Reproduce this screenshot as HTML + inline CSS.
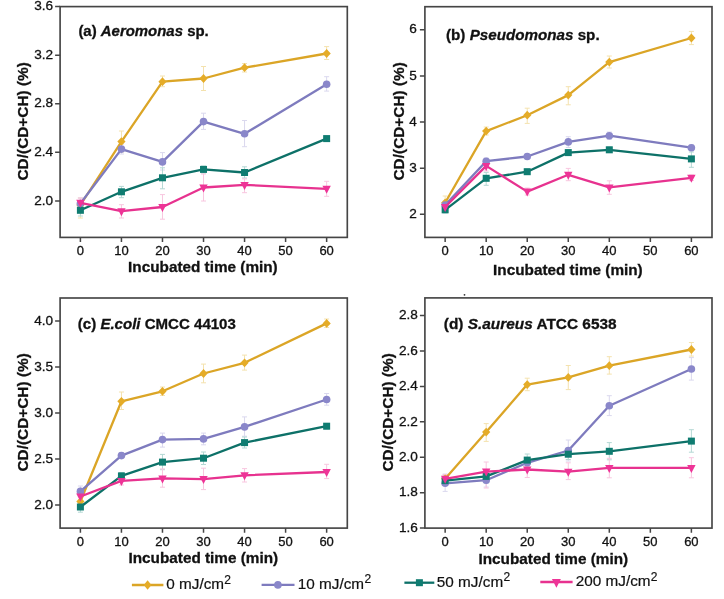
<!DOCTYPE html>
<html><head><meta charset="utf-8"><style>html,body{margin:0;padding:0;background:#fff;}body{width:724px;height:599px;overflow:hidden;}svg{display:block;}</style></head>
<body>
<svg width="724" height="599" viewBox="0 0 724 599" font-family='"Liberation Sans", Arial, Helvetica, sans-serif'>
<rect width="724" height="599" fill="#fff"/>
<path d="M80.40 198.00V218.00M77.90 198.00H82.90M77.90 218.00H82.90" stroke="#F4E2AE" stroke-width="1" fill="none"/>
<path d="M121.44 131.00V152.00M118.94 131.00H123.94M118.94 152.00H123.94" stroke="#F4E2AE" stroke-width="1" fill="none"/>
<path d="M162.48 76.00V86.70M159.98 76.00H164.98M159.98 86.70H164.98" stroke="#F4E2AE" stroke-width="1" fill="none"/>
<path d="M203.52 66.50V90.50M201.02 66.50H206.02M201.02 90.50H206.02" stroke="#F4E2AE" stroke-width="1" fill="none"/>
<path d="M244.56 63.50V72.00M242.06 63.50H247.06M242.06 72.00H247.06" stroke="#F4E2AE" stroke-width="1" fill="none"/>
<path d="M326.64 46.60V59.50M324.14 46.60H329.14M324.14 59.50H329.14" stroke="#F4E2AE" stroke-width="1" fill="none"/>
<path d="M80.40 198.00V209.00M77.90 198.00H82.90M77.90 209.00H82.90" stroke="#DAD8EE" stroke-width="1" fill="none"/>
<path d="M121.44 144.00V154.00M118.94 144.00H123.94M118.94 154.00H123.94" stroke="#DAD8EE" stroke-width="1" fill="none"/>
<path d="M162.48 152.60V170.00M159.98 152.60H164.98M159.98 170.00H164.98" stroke="#DAD8EE" stroke-width="1" fill="none"/>
<path d="M203.52 113.20V129.40M201.02 113.20H206.02M201.02 129.40H206.02" stroke="#DAD8EE" stroke-width="1" fill="none"/>
<path d="M244.56 120.50V146.70M242.06 120.50H247.06M242.06 146.70H247.06" stroke="#DAD8EE" stroke-width="1" fill="none"/>
<path d="M326.64 76.70V91.10M324.14 76.70H329.14M324.14 91.10H329.14" stroke="#DAD8EE" stroke-width="1" fill="none"/>
<path d="M80.40 204.00V216.00M77.90 204.00H82.90M77.90 216.00H82.90" stroke="#B4D8D4" stroke-width="1" fill="none"/>
<path d="M121.44 186.40V197.70M118.94 186.40H123.94M118.94 197.70H123.94" stroke="#B4D8D4" stroke-width="1" fill="none"/>
<path d="M162.48 167.80V188.80M159.98 167.80H164.98M159.98 188.80H164.98" stroke="#B4D8D4" stroke-width="1" fill="none"/>
<path d="M203.52 166.00V173.00M201.02 166.00H206.02M201.02 173.00H206.02" stroke="#B4D8D4" stroke-width="1" fill="none"/>
<path d="M244.56 166.80V178.00M242.06 166.80H247.06M242.06 178.00H247.06" stroke="#B4D8D4" stroke-width="1" fill="none"/>
<path d="M326.64 136.00V141.00M324.14 136.00H329.14M324.14 141.00H329.14" stroke="#B4D8D4" stroke-width="1" fill="none"/>
<path d="M80.40 198.00V207.00M77.90 198.00H82.90M77.90 207.00H82.90" stroke="#F8C6DF" stroke-width="1" fill="none"/>
<path d="M121.44 204.70V218.00M118.94 204.70H123.94M118.94 218.00H123.94" stroke="#F8C6DF" stroke-width="1" fill="none"/>
<path d="M162.48 194.60V219.20M159.98 194.60H164.98M159.98 219.20H164.98" stroke="#F8C6DF" stroke-width="1" fill="none"/>
<path d="M203.52 174.00V201.00M201.02 174.00H206.02M201.02 201.00H206.02" stroke="#F8C6DF" stroke-width="1" fill="none"/>
<path d="M244.56 178.90V192.70M242.06 178.90H247.06M242.06 192.70H247.06" stroke="#F8C6DF" stroke-width="1" fill="none"/>
<path d="M326.64 181.30V196.30M324.14 181.30H329.14M324.14 196.30H329.14" stroke="#F8C6DF" stroke-width="1" fill="none"/>
<path d="M80.40 205.00 L121.44 141.60 L162.48 81.70 L203.52 78.50 L244.56 67.70 L326.64 53.50" stroke="#DBA526" stroke-width="2.3" fill="none" stroke-linejoin="round"/>
<path d="M80.40 200.60L84.50 205.00L80.40 209.40L76.30 205.00Z" fill="#E5AC28"/>
<path d="M121.44 137.20L125.54 141.60L121.44 146.00L117.34 141.60Z" fill="#E5AC28"/>
<path d="M162.48 77.30L166.58 81.70L162.48 86.10L158.38 81.70Z" fill="#E5AC28"/>
<path d="M203.52 74.10L207.62 78.50L203.52 82.90L199.42 78.50Z" fill="#E5AC28"/>
<path d="M244.56 63.30L248.66 67.70L244.56 72.10L240.46 67.70Z" fill="#E5AC28"/>
<path d="M326.64 49.10L330.74 53.50L326.64 57.90L322.54 53.50Z" fill="#E5AC28"/>
<path d="M80.40 203.50 L121.44 149.10 L162.48 161.90 L203.52 121.60 L244.56 133.80 L326.64 84.20" stroke="#7E7BBE" stroke-width="2.3" fill="none" stroke-linejoin="round"/>
<circle cx="80.40" cy="203.50" r="3.80" fill="#8A87CA"/>
<circle cx="121.44" cy="149.10" r="3.80" fill="#8A87CA"/>
<circle cx="162.48" cy="161.90" r="3.80" fill="#8A87CA"/>
<circle cx="203.52" cy="121.60" r="3.80" fill="#8A87CA"/>
<circle cx="244.56" cy="133.80" r="3.80" fill="#8A87CA"/>
<circle cx="326.64" cy="84.20" r="3.80" fill="#8A87CA"/>
<path d="M80.40 210.30 L121.44 191.80 L162.48 177.80 L203.52 169.40 L244.56 172.50 L326.64 138.60" stroke="#0D7168" stroke-width="2.3" fill="none" stroke-linejoin="round"/>
<rect x="76.90" y="206.80" width="7.00" height="7.00" fill="#0F7C71"/>
<rect x="117.94" y="188.30" width="7.00" height="7.00" fill="#0F7C71"/>
<rect x="158.98" y="174.30" width="7.00" height="7.00" fill="#0F7C71"/>
<rect x="200.02" y="165.90" width="7.00" height="7.00" fill="#0F7C71"/>
<rect x="241.06" y="169.00" width="7.00" height="7.00" fill="#0F7C71"/>
<rect x="323.14" y="135.10" width="7.00" height="7.00" fill="#0F7C71"/>
<path d="M80.40 202.80 L121.44 211.20 L162.48 207.00 L203.52 187.50 L244.56 184.90 L326.64 188.80" stroke="#E7328F" stroke-width="2.3" fill="none" stroke-linejoin="round"/>
<path d="M76.20 199.80L84.60 199.80L80.40 207.80Z" fill="#EE3497"/>
<path d="M117.24 208.20L125.64 208.20L121.44 216.20Z" fill="#EE3497"/>
<path d="M158.28 204.00L166.68 204.00L162.48 212.00Z" fill="#EE3497"/>
<path d="M199.32 184.50L207.72 184.50L203.52 192.50Z" fill="#EE3497"/>
<path d="M240.36 181.90L248.76 181.90L244.56 189.90Z" fill="#EE3497"/>
<path d="M322.44 185.80L330.84 185.80L326.64 193.80Z" fill="#EE3497"/>
<rect x="60.10" y="6.60" width="287.20" height="230.80" fill="none" stroke="#454545" stroke-width="1.65"/>
<path d="M80.40 237.40V242.00M121.44 237.40V242.00M162.48 237.40V242.00M203.52 237.40V242.00M244.56 237.40V242.00M326.64 237.40V242.00M285.60 237.40V242.00M60.10 200.96H55.10M60.10 152.37H55.10M60.10 103.78H55.10M60.10 55.19H55.10M60.10 6.60H55.10" stroke="#454545" stroke-width="1.5"/>
<text x="80.40" y="255.20" font-size="13" text-anchor="middle" fill="#111" stroke="#111" stroke-width="0.3">0</text>
<text x="121.44" y="255.20" font-size="13" text-anchor="middle" fill="#111" stroke="#111" stroke-width="0.3">10</text>
<text x="162.48" y="255.20" font-size="13" text-anchor="middle" fill="#111" stroke="#111" stroke-width="0.3">20</text>
<text x="203.52" y="255.20" font-size="13" text-anchor="middle" fill="#111" stroke="#111" stroke-width="0.3">30</text>
<text x="244.56" y="255.20" font-size="13" text-anchor="middle" fill="#111" stroke="#111" stroke-width="0.3">40</text>
<text x="285.60" y="255.20" font-size="13" text-anchor="middle" fill="#111" stroke="#111" stroke-width="0.3">50</text>
<text x="326.64" y="255.20" font-size="13" text-anchor="middle" fill="#111" stroke="#111" stroke-width="0.3">60</text>
<text x="53.10" y="204.66" font-size="13.6" text-anchor="end" fill="#111" stroke="#111" stroke-width="0.3">2.0</text>
<text x="53.10" y="156.07" font-size="13.6" text-anchor="end" fill="#111" stroke="#111" stroke-width="0.3">2.4</text>
<text x="53.10" y="107.48" font-size="13.6" text-anchor="end" fill="#111" stroke="#111" stroke-width="0.3">2.8</text>
<text x="53.10" y="58.89" font-size="13.6" text-anchor="end" fill="#111" stroke="#111" stroke-width="0.3">3.2</text>
<text x="53.10" y="10.30" font-size="13.6" text-anchor="end" fill="#111" stroke="#111" stroke-width="0.3">3.6</text>
<text x="128.10" y="271.80" font-size="15.3" font-weight="bold" fill="#111" stroke="#111" stroke-width="0.3">Incubated time (min)</text>
<text transform="translate(28.00 180.50) rotate(-90)" font-size="15.4" font-weight="bold" fill="#111" stroke="#111" stroke-width="0.3">CD/(CD+CH) (%)</text>
<text x="78.4" y="35.7" font-size="14.95" font-weight="bold" fill="#111" stroke="#111" stroke-width="0.3" xml:space="preserve"><tspan>(a) </tspan><tspan font-style="italic">Aeromonas</tspan><tspan> sp.</tspan></text>
<path d="M445.15 196.00V208.00M442.65 196.00H447.65M442.65 208.00H447.65" stroke="#F4E2AE" stroke-width="1" fill="none"/>
<path d="M486.19 127.00V135.00M483.69 127.00H488.69M483.69 135.00H488.69" stroke="#F4E2AE" stroke-width="1" fill="none"/>
<path d="M527.23 108.20V123.40M524.73 108.20H529.73M524.73 123.40H529.73" stroke="#F4E2AE" stroke-width="1" fill="none"/>
<path d="M568.27 86.70V104.80M565.77 86.70H570.77M565.77 104.80H570.77" stroke="#F4E2AE" stroke-width="1" fill="none"/>
<path d="M609.31 56.00V68.00M606.81 56.00H611.81M606.81 68.00H611.81" stroke="#F4E2AE" stroke-width="1" fill="none"/>
<path d="M691.39 31.40V44.60M688.89 31.40H693.89M688.89 44.60H693.89" stroke="#F4E2AE" stroke-width="1" fill="none"/>
<path d="M445.15 201.00V209.00M442.65 201.00H447.65M442.65 209.00H447.65" stroke="#DAD8EE" stroke-width="1" fill="none"/>
<path d="M486.19 158.00V164.00M483.69 158.00H488.69M483.69 164.00H488.69" stroke="#DAD8EE" stroke-width="1" fill="none"/>
<path d="M527.23 154.00V159.00M524.73 154.00H529.73M524.73 159.00H529.73" stroke="#DAD8EE" stroke-width="1" fill="none"/>
<path d="M568.27 136.70V147.50M565.77 136.70H570.77M565.77 147.50H570.77" stroke="#DAD8EE" stroke-width="1" fill="none"/>
<path d="M609.31 132.00V139.50M606.81 132.00H611.81M606.81 139.50H611.81" stroke="#DAD8EE" stroke-width="1" fill="none"/>
<path d="M691.39 145.00V150.50M688.89 145.00H693.89M688.89 150.50H693.89" stroke="#DAD8EE" stroke-width="1" fill="none"/>
<path d="M445.15 206.00V213.00M442.65 206.00H447.65M442.65 213.00H447.65" stroke="#B4D8D4" stroke-width="1" fill="none"/>
<path d="M486.19 172.40V185.30M483.69 172.40H488.69M483.69 185.30H488.69" stroke="#B4D8D4" stroke-width="1" fill="none"/>
<path d="M527.23 169.00V174.50M524.73 169.00H529.73M524.73 174.50H529.73" stroke="#B4D8D4" stroke-width="1" fill="none"/>
<path d="M568.27 150.00V155.50M565.77 150.00H570.77M565.77 155.50H570.77" stroke="#B4D8D4" stroke-width="1" fill="none"/>
<path d="M609.31 147.00V152.50M606.81 147.00H611.81M606.81 152.50H611.81" stroke="#B4D8D4" stroke-width="1" fill="none"/>
<path d="M691.39 152.00V167.30M688.89 152.00H693.89M688.89 167.30H693.89" stroke="#B4D8D4" stroke-width="1" fill="none"/>
<path d="M445.15 203.00V211.00M442.65 203.00H447.65M442.65 211.00H447.65" stroke="#F8C6DF" stroke-width="1" fill="none"/>
<path d="M486.19 161.00V171.00M483.69 161.00H488.69M483.69 171.00H488.69" stroke="#F8C6DF" stroke-width="1" fill="none"/>
<path d="M527.23 188.00V195.00M524.73 188.00H529.73M524.73 195.00H529.73" stroke="#F8C6DF" stroke-width="1" fill="none"/>
<path d="M568.27 168.40V180.70M565.77 168.40H570.77M565.77 180.70H570.77" stroke="#F8C6DF" stroke-width="1" fill="none"/>
<path d="M609.31 180.80V194.30M606.81 180.80H611.81M606.81 194.30H611.81" stroke="#F8C6DF" stroke-width="1" fill="none"/>
<path d="M691.39 175.00V180.50M688.89 175.00H693.89M688.89 180.50H693.89" stroke="#F8C6DF" stroke-width="1" fill="none"/>
<path d="M445.15 202.80 L486.19 131.10 L527.23 115.20 L568.27 95.10 L609.31 62.10 L691.39 38.00" stroke="#DBA526" stroke-width="2.3" fill="none" stroke-linejoin="round"/>
<path d="M445.15 198.40L449.25 202.80L445.15 207.20L441.05 202.80Z" fill="#E5AC28"/>
<path d="M486.19 126.70L490.29 131.10L486.19 135.50L482.09 131.10Z" fill="#E5AC28"/>
<path d="M527.23 110.80L531.33 115.20L527.23 119.60L523.13 115.20Z" fill="#E5AC28"/>
<path d="M568.27 90.70L572.37 95.10L568.27 99.50L564.17 95.10Z" fill="#E5AC28"/>
<path d="M609.31 57.70L613.41 62.10L609.31 66.50L605.21 62.10Z" fill="#E5AC28"/>
<path d="M691.39 33.60L695.49 38.00L691.39 42.40L687.29 38.00Z" fill="#E5AC28"/>
<path d="M445.15 205.10 L486.19 161.20 L527.23 156.50 L568.27 141.90 L609.31 135.70 L691.39 147.70" stroke="#7E7BBE" stroke-width="2.3" fill="none" stroke-linejoin="round"/>
<circle cx="445.15" cy="205.10" r="3.80" fill="#8A87CA"/>
<circle cx="486.19" cy="161.20" r="3.80" fill="#8A87CA"/>
<circle cx="527.23" cy="156.50" r="3.80" fill="#8A87CA"/>
<circle cx="568.27" cy="141.90" r="3.80" fill="#8A87CA"/>
<circle cx="609.31" cy="135.70" r="3.80" fill="#8A87CA"/>
<circle cx="691.39" cy="147.70" r="3.80" fill="#8A87CA"/>
<path d="M445.15 209.80 L486.19 178.30 L527.23 171.70 L568.27 152.60 L609.31 149.80 L691.39 158.90" stroke="#0D7168" stroke-width="2.3" fill="none" stroke-linejoin="round"/>
<rect x="441.65" y="206.30" width="7.00" height="7.00" fill="#0F7C71"/>
<rect x="482.69" y="174.80" width="7.00" height="7.00" fill="#0F7C71"/>
<rect x="523.73" y="168.20" width="7.00" height="7.00" fill="#0F7C71"/>
<rect x="564.77" y="149.10" width="7.00" height="7.00" fill="#0F7C71"/>
<rect x="605.81" y="146.30" width="7.00" height="7.00" fill="#0F7C71"/>
<rect x="687.89" y="155.40" width="7.00" height="7.00" fill="#0F7C71"/>
<path d="M445.15 207.00 L486.19 165.90 L527.23 191.60 L568.27 174.80 L609.31 187.40 L691.39 177.80" stroke="#E7328F" stroke-width="2.3" fill="none" stroke-linejoin="round"/>
<path d="M440.95 204.00L449.35 204.00L445.15 212.00Z" fill="#EE3497"/>
<path d="M481.99 162.90L490.39 162.90L486.19 170.90Z" fill="#EE3497"/>
<path d="M523.03 188.60L531.43 188.60L527.23 196.60Z" fill="#EE3497"/>
<path d="M564.07 171.80L572.47 171.80L568.27 179.80Z" fill="#EE3497"/>
<path d="M605.11 184.40L613.51 184.40L609.31 192.40Z" fill="#EE3497"/>
<path d="M687.19 174.80L695.59 174.80L691.39 182.80Z" fill="#EE3497"/>
<rect x="424.90" y="6.70" width="287.10" height="230.70" fill="none" stroke="#454545" stroke-width="1.65"/>
<path d="M445.15 237.40V242.00M486.19 237.40V242.00M527.23 237.40V242.00M568.27 237.40V242.00M609.31 237.40V242.00M691.39 237.40V242.00M650.35 237.40V242.00M424.90 214.33H419.90M424.90 168.19H419.90M424.90 122.05H419.90M424.90 75.91H419.90M424.90 29.77H419.90" stroke="#454545" stroke-width="1.5"/>
<text x="445.15" y="255.20" font-size="13" text-anchor="middle" fill="#111" stroke="#111" stroke-width="0.3">0</text>
<text x="486.19" y="255.20" font-size="13" text-anchor="middle" fill="#111" stroke="#111" stroke-width="0.3">10</text>
<text x="527.23" y="255.20" font-size="13" text-anchor="middle" fill="#111" stroke="#111" stroke-width="0.3">20</text>
<text x="568.27" y="255.20" font-size="13" text-anchor="middle" fill="#111" stroke="#111" stroke-width="0.3">30</text>
<text x="609.31" y="255.20" font-size="13" text-anchor="middle" fill="#111" stroke="#111" stroke-width="0.3">40</text>
<text x="650.35" y="255.20" font-size="13" text-anchor="middle" fill="#111" stroke="#111" stroke-width="0.3">50</text>
<text x="691.39" y="255.20" font-size="13" text-anchor="middle" fill="#111" stroke="#111" stroke-width="0.3">60</text>
<text x="416.90" y="218.03" font-size="13.6" text-anchor="end" fill="#111" stroke="#111" stroke-width="0.3">2</text>
<text x="416.90" y="171.89" font-size="13.6" text-anchor="end" fill="#111" stroke="#111" stroke-width="0.3">3</text>
<text x="416.90" y="125.75" font-size="13.6" text-anchor="end" fill="#111" stroke="#111" stroke-width="0.3">4</text>
<text x="416.90" y="79.61" font-size="13.6" text-anchor="end" fill="#111" stroke="#111" stroke-width="0.3">5</text>
<text x="416.90" y="33.47" font-size="13.6" text-anchor="end" fill="#111" stroke="#111" stroke-width="0.3">6</text>
<text x="493.10" y="274.90" font-size="15.3" font-weight="bold" fill="#111" stroke="#111" stroke-width="0.3">Incubated time (min)</text>
<text transform="translate(404.00 180.50) rotate(-90)" font-size="15.4" font-weight="bold" fill="#111" stroke="#111" stroke-width="0.3">CD/(CD+CH) (%)</text>
<text x="446.0" y="39.7" font-size="15.2" font-weight="bold" fill="#111" stroke="#111" stroke-width="0.3" xml:space="preserve"><tspan>(b) </tspan><tspan font-style="italic">Pseudomonas</tspan><tspan> sp.</tspan></text>
<path d="M80.40 495.00V508.00M77.90 495.00H82.90M77.90 508.00H82.90" stroke="#F4E2AE" stroke-width="1" fill="none"/>
<path d="M121.44 392.00V409.50M118.94 392.00H123.94M118.94 409.50H123.94" stroke="#F4E2AE" stroke-width="1" fill="none"/>
<path d="M162.48 387.00V395.50M159.98 387.00H164.98M159.98 395.50H164.98" stroke="#F4E2AE" stroke-width="1" fill="none"/>
<path d="M203.52 364.10V382.80M201.02 364.10H206.02M201.02 382.80H206.02" stroke="#F4E2AE" stroke-width="1" fill="none"/>
<path d="M244.56 355.10V370.10M242.06 355.10H247.06M242.06 370.10H247.06" stroke="#F4E2AE" stroke-width="1" fill="none"/>
<path d="M326.64 319.00V327.50M324.14 319.00H329.14M324.14 327.50H329.14" stroke="#F4E2AE" stroke-width="1" fill="none"/>
<path d="M80.40 486.00V497.00M77.90 486.00H82.90M77.90 497.00H82.90" stroke="#DAD8EE" stroke-width="1" fill="none"/>
<path d="M121.44 452.50V458.50M118.94 452.50H123.94M118.94 458.50H123.94" stroke="#DAD8EE" stroke-width="1" fill="none"/>
<path d="M162.48 433.10V447.10M159.98 433.10H164.98M159.98 447.10H164.98" stroke="#DAD8EE" stroke-width="1" fill="none"/>
<path d="M203.52 433.10V444.80M201.02 433.10H206.02M201.02 444.80H206.02" stroke="#DAD8EE" stroke-width="1" fill="none"/>
<path d="M244.56 416.90V436.20M242.06 416.90H247.06M242.06 436.20H247.06" stroke="#DAD8EE" stroke-width="1" fill="none"/>
<path d="M326.64 393.50V405.20M324.14 393.50H329.14M324.14 405.20H329.14" stroke="#DAD8EE" stroke-width="1" fill="none"/>
<path d="M80.40 502.70V512.20M77.90 502.70H82.90M77.90 512.20H82.90" stroke="#B4D8D4" stroke-width="1" fill="none"/>
<path d="M121.44 472.50V479.50M118.94 472.50H123.94M118.94 479.50H123.94" stroke="#B4D8D4" stroke-width="1" fill="none"/>
<path d="M162.48 454.40V469.70M159.98 454.40H164.98M159.98 469.70H164.98" stroke="#B4D8D4" stroke-width="1" fill="none"/>
<path d="M203.52 452.00V464.50M201.02 452.00H206.02M201.02 464.50H206.02" stroke="#B4D8D4" stroke-width="1" fill="none"/>
<path d="M244.56 437.00V448.00M242.06 437.00H247.06M242.06 448.00H247.06" stroke="#B4D8D4" stroke-width="1" fill="none"/>
<path d="M326.64 423.50V429.00M324.14 423.50H329.14M324.14 429.00H329.14" stroke="#B4D8D4" stroke-width="1" fill="none"/>
<path d="M80.40 492.00V501.00M77.90 492.00H82.90M77.90 501.00H82.90" stroke="#F8C6DF" stroke-width="1" fill="none"/>
<path d="M121.44 477.00V485.00M118.94 477.00H123.94M118.94 485.00H123.94" stroke="#F8C6DF" stroke-width="1" fill="none"/>
<path d="M162.48 468.90V487.20M159.98 468.90H164.98M159.98 487.20H164.98" stroke="#F8C6DF" stroke-width="1" fill="none"/>
<path d="M203.52 468.20V489.60M201.02 468.20H206.02M201.02 489.60H206.02" stroke="#F8C6DF" stroke-width="1" fill="none"/>
<path d="M244.56 468.60V482.00M242.06 468.60H247.06M242.06 482.00H247.06" stroke="#F8C6DF" stroke-width="1" fill="none"/>
<path d="M326.64 464.30V478.60M324.14 464.30H329.14M324.14 478.60H329.14" stroke="#F8C6DF" stroke-width="1" fill="none"/>
<path d="M80.40 501.50 L121.44 401.30 L162.48 391.30 L203.52 373.50 L244.56 362.80 L326.64 323.40" stroke="#DBA526" stroke-width="2.3" fill="none" stroke-linejoin="round"/>
<path d="M80.40 497.10L84.50 501.50L80.40 505.90L76.30 501.50Z" fill="#E5AC28"/>
<path d="M121.44 396.90L125.54 401.30L121.44 405.70L117.34 401.30Z" fill="#E5AC28"/>
<path d="M162.48 386.90L166.58 391.30L162.48 395.70L158.38 391.30Z" fill="#E5AC28"/>
<path d="M203.52 369.10L207.62 373.50L203.52 377.90L199.42 373.50Z" fill="#E5AC28"/>
<path d="M244.56 358.40L248.66 362.80L244.56 367.20L240.46 362.80Z" fill="#E5AC28"/>
<path d="M326.64 319.00L330.74 323.40L326.64 327.80L322.54 323.40Z" fill="#E5AC28"/>
<path d="M80.40 491.40 L121.44 455.60 L162.48 439.60 L203.52 438.90 L244.56 426.90 L326.64 399.50" stroke="#7E7BBE" stroke-width="2.3" fill="none" stroke-linejoin="round"/>
<circle cx="80.40" cy="491.40" r="3.80" fill="#8A87CA"/>
<circle cx="121.44" cy="455.60" r="3.80" fill="#8A87CA"/>
<circle cx="162.48" cy="439.60" r="3.80" fill="#8A87CA"/>
<circle cx="203.52" cy="438.90" r="3.80" fill="#8A87CA"/>
<circle cx="244.56" cy="426.90" r="3.80" fill="#8A87CA"/>
<circle cx="326.64" cy="399.50" r="3.80" fill="#8A87CA"/>
<path d="M80.40 507.00 L121.44 475.90 L162.48 462.10 L203.52 458.20 L244.56 442.60 L326.64 426.20" stroke="#0D7168" stroke-width="2.3" fill="none" stroke-linejoin="round"/>
<rect x="76.90" y="503.50" width="7.00" height="7.00" fill="#0F7C71"/>
<rect x="117.94" y="472.40" width="7.00" height="7.00" fill="#0F7C71"/>
<rect x="158.98" y="458.60" width="7.00" height="7.00" fill="#0F7C71"/>
<rect x="200.02" y="454.70" width="7.00" height="7.00" fill="#0F7C71"/>
<rect x="241.06" y="439.10" width="7.00" height="7.00" fill="#0F7C71"/>
<rect x="323.14" y="422.70" width="7.00" height="7.00" fill="#0F7C71"/>
<path d="M80.40 496.50 L121.44 480.90 L162.48 478.40 L203.52 479.10 L244.56 475.30 L326.64 472.00" stroke="#E7328F" stroke-width="2.3" fill="none" stroke-linejoin="round"/>
<path d="M76.20 493.50L84.60 493.50L80.40 501.50Z" fill="#EE3497"/>
<path d="M117.24 477.90L125.64 477.90L121.44 485.90Z" fill="#EE3497"/>
<path d="M158.28 475.40L166.68 475.40L162.48 483.40Z" fill="#EE3497"/>
<path d="M199.32 476.10L207.72 476.10L203.52 484.10Z" fill="#EE3497"/>
<path d="M240.36 472.30L248.76 472.30L244.56 480.30Z" fill="#EE3497"/>
<path d="M322.44 469.00L330.84 469.00L326.64 477.00Z" fill="#EE3497"/>
<rect x="60.10" y="298.00" width="287.20" height="230.10" fill="none" stroke="#454545" stroke-width="1.65"/>
<path d="M80.40 528.10V532.70M121.44 528.10V532.70M162.48 528.10V532.70M203.52 528.10V532.70M244.56 528.10V532.70M326.64 528.10V532.70M285.60 528.10V532.70M60.10 505.09H55.10M60.10 459.07H55.10M60.10 413.05H55.10M60.10 367.03H55.10M60.10 321.01H55.10" stroke="#454545" stroke-width="1.5"/>
<text x="80.40" y="545.90" font-size="13" text-anchor="middle" fill="#111" stroke="#111" stroke-width="0.3">0</text>
<text x="121.44" y="545.90" font-size="13" text-anchor="middle" fill="#111" stroke="#111" stroke-width="0.3">10</text>
<text x="162.48" y="545.90" font-size="13" text-anchor="middle" fill="#111" stroke="#111" stroke-width="0.3">20</text>
<text x="203.52" y="545.90" font-size="13" text-anchor="middle" fill="#111" stroke="#111" stroke-width="0.3">30</text>
<text x="244.56" y="545.90" font-size="13" text-anchor="middle" fill="#111" stroke="#111" stroke-width="0.3">40</text>
<text x="285.60" y="545.90" font-size="13" text-anchor="middle" fill="#111" stroke="#111" stroke-width="0.3">50</text>
<text x="326.64" y="545.90" font-size="13" text-anchor="middle" fill="#111" stroke="#111" stroke-width="0.3">60</text>
<text x="53.10" y="508.79" font-size="13.6" text-anchor="end" fill="#111" stroke="#111" stroke-width="0.3">2.0</text>
<text x="53.10" y="462.77" font-size="13.6" text-anchor="end" fill="#111" stroke="#111" stroke-width="0.3">2.5</text>
<text x="53.10" y="416.75" font-size="13.6" text-anchor="end" fill="#111" stroke="#111" stroke-width="0.3">3.0</text>
<text x="53.10" y="370.73" font-size="13.6" text-anchor="end" fill="#111" stroke="#111" stroke-width="0.3">3.5</text>
<text x="53.10" y="324.71" font-size="13.6" text-anchor="end" fill="#111" stroke="#111" stroke-width="0.3">4.0</text>
<text x="128.50" y="562.50" font-size="15.3" font-weight="bold" fill="#111" stroke="#111" stroke-width="0.3">Incubated time (min)</text>
<text transform="translate(28.40 471.60) rotate(-90)" font-size="15.4" font-weight="bold" fill="#111" stroke="#111" stroke-width="0.3">CD/(CD+CH) (%)</text>
<text x="77.8" y="328.6" font-size="15.05" font-weight="bold" fill="#111" stroke="#111" stroke-width="0.3" xml:space="preserve"><tspan>(c) </tspan><tspan font-style="italic">E.coli</tspan><tspan> CMCC 44103</tspan></text>
<path d="M445.15 475.00V482.50M442.65 475.00H447.65M442.65 482.50H447.65" stroke="#F4E2AE" stroke-width="1" fill="none"/>
<path d="M486.19 423.60V441.40M483.69 423.60H488.69M483.69 441.40H488.69" stroke="#F4E2AE" stroke-width="1" fill="none"/>
<path d="M527.23 378.20V390.70M524.73 378.20H529.73M524.73 390.70H529.73" stroke="#F4E2AE" stroke-width="1" fill="none"/>
<path d="M568.27 365.50V389.60M565.77 365.50H570.77M565.77 389.60H570.77" stroke="#F4E2AE" stroke-width="1" fill="none"/>
<path d="M609.31 356.70V374.10M606.81 356.70H611.81M606.81 374.10H611.81" stroke="#F4E2AE" stroke-width="1" fill="none"/>
<path d="M691.39 342.50V356.10M688.89 342.50H693.89M688.89 356.10H693.89" stroke="#F4E2AE" stroke-width="1" fill="none"/>
<path d="M445.15 474.00V491.40M442.65 474.00H447.65M442.65 491.40H447.65" stroke="#DAD8EE" stroke-width="1" fill="none"/>
<path d="M486.19 472.00V487.00M483.69 472.00H488.69M483.69 487.00H488.69" stroke="#DAD8EE" stroke-width="1" fill="none"/>
<path d="M527.23 458.00V467.00M524.73 458.00H529.73M524.73 467.00H529.73" stroke="#DAD8EE" stroke-width="1" fill="none"/>
<path d="M568.27 440.00V461.00M565.77 440.00H570.77M565.77 461.00H570.77" stroke="#DAD8EE" stroke-width="1" fill="none"/>
<path d="M609.31 395.70V415.60M606.81 395.70H611.81M606.81 415.60H611.81" stroke="#DAD8EE" stroke-width="1" fill="none"/>
<path d="M691.39 357.60V380.10M688.89 357.60H693.89M688.89 380.10H693.89" stroke="#DAD8EE" stroke-width="1" fill="none"/>
<path d="M445.15 476.00V485.00M442.65 476.00H447.65M442.65 485.00H447.65" stroke="#B4D8D4" stroke-width="1" fill="none"/>
<path d="M486.19 470.00V483.00M483.69 470.00H488.69M483.69 483.00H488.69" stroke="#B4D8D4" stroke-width="1" fill="none"/>
<path d="M527.23 454.00V466.00M524.73 454.00H529.73M524.73 466.00H529.73" stroke="#B4D8D4" stroke-width="1" fill="none"/>
<path d="M568.27 449.00V459.50M565.77 449.00H570.77M565.77 459.50H570.77" stroke="#B4D8D4" stroke-width="1" fill="none"/>
<path d="M609.31 442.60V459.80M606.81 442.60H611.81M606.81 459.80H611.81" stroke="#B4D8D4" stroke-width="1" fill="none"/>
<path d="M691.39 429.70V452.20M688.89 429.70H693.89M688.89 452.20H693.89" stroke="#B4D8D4" stroke-width="1" fill="none"/>
<path d="M445.15 474.50V483.50M442.65 474.50H447.65M442.65 483.50H447.65" stroke="#F8C6DF" stroke-width="1" fill="none"/>
<path d="M486.19 462.00V488.00M483.69 462.00H488.69M483.69 488.00H488.69" stroke="#F8C6DF" stroke-width="1" fill="none"/>
<path d="M527.23 462.80V477.50M524.73 462.80H529.73M524.73 477.50H529.73" stroke="#F8C6DF" stroke-width="1" fill="none"/>
<path d="M568.27 462.80V479.60M565.77 462.80H570.77M565.77 479.60H570.77" stroke="#F8C6DF" stroke-width="1" fill="none"/>
<path d="M609.31 458.30V477.80M606.81 458.30H611.81M606.81 477.80H611.81" stroke="#F8C6DF" stroke-width="1" fill="none"/>
<path d="M691.39 457.70V477.80M688.89 457.70H693.89M688.89 477.80H693.89" stroke="#F8C6DF" stroke-width="1" fill="none"/>
<path d="M445.15 478.80 L486.19 432.10 L527.23 384.60 L568.27 377.40 L609.31 365.70 L691.39 349.50" stroke="#DBA526" stroke-width="2.3" fill="none" stroke-linejoin="round"/>
<path d="M445.15 474.40L449.25 478.80L445.15 483.20L441.05 478.80Z" fill="#E5AC28"/>
<path d="M486.19 427.70L490.29 432.10L486.19 436.50L482.09 432.10Z" fill="#E5AC28"/>
<path d="M527.23 380.20L531.33 384.60L527.23 389.00L523.13 384.60Z" fill="#E5AC28"/>
<path d="M568.27 373.00L572.37 377.40L568.27 381.80L564.17 377.40Z" fill="#E5AC28"/>
<path d="M609.31 361.30L613.41 365.70L609.31 370.10L605.21 365.70Z" fill="#E5AC28"/>
<path d="M691.39 345.10L695.49 349.50L691.39 353.90L687.29 349.50Z" fill="#E5AC28"/>
<path d="M445.15 483.30 L486.19 480.20 L527.23 462.80 L568.27 450.50 L609.31 405.70 L691.39 369.00" stroke="#7E7BBE" stroke-width="2.3" fill="none" stroke-linejoin="round"/>
<circle cx="445.15" cy="483.30" r="3.80" fill="#8A87CA"/>
<circle cx="486.19" cy="480.20" r="3.80" fill="#8A87CA"/>
<circle cx="527.23" cy="462.80" r="3.80" fill="#8A87CA"/>
<circle cx="568.27" cy="450.50" r="3.80" fill="#8A87CA"/>
<circle cx="609.31" cy="405.70" r="3.80" fill="#8A87CA"/>
<circle cx="691.39" cy="369.00" r="3.80" fill="#8A87CA"/>
<path d="M445.15 480.60 L486.19 476.40 L527.23 460.10 L568.27 454.20 L609.31 451.30 L691.39 441.10" stroke="#0D7168" stroke-width="2.3" fill="none" stroke-linejoin="round"/>
<rect x="441.65" y="477.10" width="7.00" height="7.00" fill="#0F7C71"/>
<rect x="482.69" y="472.90" width="7.00" height="7.00" fill="#0F7C71"/>
<rect x="523.73" y="456.60" width="7.00" height="7.00" fill="#0F7C71"/>
<rect x="564.77" y="450.70" width="7.00" height="7.00" fill="#0F7C71"/>
<rect x="605.81" y="447.80" width="7.00" height="7.00" fill="#0F7C71"/>
<rect x="687.89" y="437.60" width="7.00" height="7.00" fill="#0F7C71"/>
<path d="M445.15 478.80 L486.19 471.60 L527.23 469.50 L568.27 471.70 L609.31 467.90 L691.39 467.90" stroke="#E7328F" stroke-width="2.3" fill="none" stroke-linejoin="round"/>
<path d="M440.95 475.80L449.35 475.80L445.15 483.80Z" fill="#EE3497"/>
<path d="M481.99 468.60L490.39 468.60L486.19 476.60Z" fill="#EE3497"/>
<path d="M523.03 466.50L531.43 466.50L527.23 474.50Z" fill="#EE3497"/>
<path d="M564.07 468.70L572.47 468.70L568.27 476.70Z" fill="#EE3497"/>
<path d="M605.11 464.90L613.51 464.90L609.31 472.90Z" fill="#EE3497"/>
<path d="M687.19 464.90L695.59 464.90L691.39 472.90Z" fill="#EE3497"/>
<rect x="424.90" y="297.90" width="287.10" height="230.20" fill="none" stroke="#454545" stroke-width="1.65"/>
<path d="M445.15 528.10V532.70M486.19 528.10V532.70M527.23 528.10V532.70M568.27 528.10V532.70M609.31 528.10V532.70M691.39 528.10V532.70M650.35 528.10V532.70M424.90 528.10H419.90M424.90 492.68H419.90M424.90 457.27H419.90M424.90 421.85H419.90M424.90 386.44H419.90M424.90 351.02H419.90M424.90 315.61H419.90" stroke="#454545" stroke-width="1.5"/>
<text x="445.15" y="545.90" font-size="13" text-anchor="middle" fill="#111" stroke="#111" stroke-width="0.3">0</text>
<text x="486.19" y="545.90" font-size="13" text-anchor="middle" fill="#111" stroke="#111" stroke-width="0.3">10</text>
<text x="527.23" y="545.90" font-size="13" text-anchor="middle" fill="#111" stroke="#111" stroke-width="0.3">20</text>
<text x="568.27" y="545.90" font-size="13" text-anchor="middle" fill="#111" stroke="#111" stroke-width="0.3">30</text>
<text x="609.31" y="545.90" font-size="13" text-anchor="middle" fill="#111" stroke="#111" stroke-width="0.3">40</text>
<text x="650.35" y="545.90" font-size="13" text-anchor="middle" fill="#111" stroke="#111" stroke-width="0.3">50</text>
<text x="691.39" y="545.90" font-size="13" text-anchor="middle" fill="#111" stroke="#111" stroke-width="0.3">60</text>
<text x="417.90" y="531.80" font-size="13.6" text-anchor="end" fill="#111" stroke="#111" stroke-width="0.3">1.6</text>
<text x="417.90" y="496.38" font-size="13.6" text-anchor="end" fill="#111" stroke="#111" stroke-width="0.3">1.8</text>
<text x="417.90" y="460.97" font-size="13.6" text-anchor="end" fill="#111" stroke="#111" stroke-width="0.3">2.0</text>
<text x="417.90" y="425.55" font-size="13.6" text-anchor="end" fill="#111" stroke="#111" stroke-width="0.3">2.2</text>
<text x="417.90" y="390.14" font-size="13.6" text-anchor="end" fill="#111" stroke="#111" stroke-width="0.3">2.4</text>
<text x="417.90" y="354.72" font-size="13.6" text-anchor="end" fill="#111" stroke="#111" stroke-width="0.3">2.6</text>
<text x="417.90" y="319.31" font-size="13.6" text-anchor="end" fill="#111" stroke="#111" stroke-width="0.3">2.8</text>
<text x="478.50" y="563.70" font-size="15.3" font-weight="bold" fill="#111" stroke="#111" stroke-width="0.3">Incubated time (min)</text>
<text transform="translate(393.00 471.50) rotate(-90)" font-size="15.4" font-weight="bold" fill="#111" stroke="#111" stroke-width="0.3">CD/(CD+CH) (%)</text>
<text x="443.8" y="328.5" font-size="15.4" font-weight="bold" fill="#111" stroke="#111" stroke-width="0.3" xml:space="preserve"><tspan>(d) </tspan><tspan font-style="italic">S.aureus</tspan><tspan> ATCC 6538</tspan></text>
<circle cx="464.5" cy="294.8" r="0.9" fill="#333"/>
<path d="M131.9 585.0H163.4" stroke="#DBA526" stroke-width="2.3"/>
<path d="M147.60 580.20L151.40 585.00L147.60 589.80L143.80 585.00Z" fill="#E5AC28"/>
<text x="166.25" y="589.3" font-size="15.3" fill="#111" stroke="#111" stroke-width="0.2">0 mJ/cm<tspan font-size="12" dx="0.3" dy="-5.6">2</tspan></text>
<path d="M261.6 584.9H294.5" stroke="#7E7BBE" stroke-width="2.3"/>
<circle cx="277.90" cy="584.90" r="3.80" fill="#8A87CA"/>
<text x="297.8" y="588.8" font-size="15.3" fill="#111" stroke="#111" stroke-width="0.2">10 mJ/cm<tspan font-size="12" dx="0.3" dy="-5.6">2</tspan></text>
<path d="M404.4 582.7H434.3" stroke="#0D7168" stroke-width="2.3"/>
<rect x="415.90" y="579.20" width="7.00" height="7.00" fill="#0F7C71"/>
<text x="436.85" y="586.8" font-size="15.3" fill="#111" stroke="#111" stroke-width="0.2">50 mJ/cm<tspan font-size="12" dx="0.3" dy="-5.6">2</tspan></text>
<path d="M540.3 582.0H572.6" stroke="#E7328F" stroke-width="2.3"/>
<path d="M551.90 579.00L560.90 579.00L556.40 587.80Z" fill="#EE3497"/>
<text x="575.75" y="586.1" font-size="15.3" fill="#111" stroke="#111" stroke-width="0.2">200 mJ/cm<tspan font-size="12" dx="0.3" dy="-5.6">2</tspan></text>
</svg>
</body></html>
